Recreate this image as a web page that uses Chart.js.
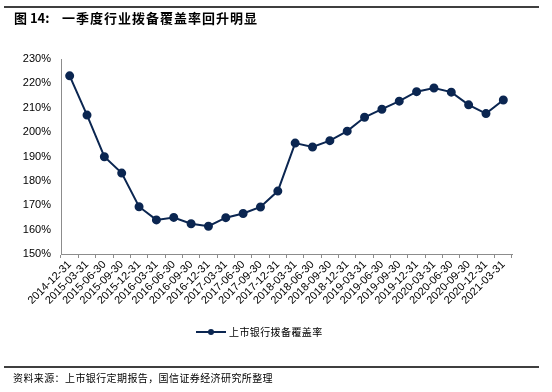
<!DOCTYPE html>
<html>
<head>
<meta charset="utf-8">
<script src="https://cdn.jsdelivr.net/npm/chart.js@4/dist/chart.umd.min.js"></script>
<style>
  html, body { margin: 0; padding: 0; background: #fff; }
  #wrap { position: relative; width: 552px; height: 392px; }
</style>
</head>
<body>
<div id="wrap"><canvas id="coverageChart" width="552" height="392"></canvas></div>
<script>
// quarter-end dates
const dates = [
  '2014-12-31', '2015-03-31', '2015-06-30', '2015-09-30', '2015-12-31',
  '2016-03-31', '2016-06-30', '2016-09-30', '2016-12-31',
  '2017-03-31', '2017-06-30', '2017-09-30', '2017-12-31',
  '2018-03-31', '2018-06-30', '2018-09-30', '2018-12-31',
  '2019-03-31', '2019-06-30', '2019-09-30', '2019-12-31',
  '2020-03-31', '2020-06-30', '2020-09-30', '2020-12-31',
  '2021-03-31'
];
// 上市银行拨备覆盖率 (%)
const coverage = [
  223.1, 207.0, 189.9, 183.2, 169.4,
  164.0, 165.0, 162.4, 161.4,
  164.9, 166.6, 169.3, 175.8,
  195.5, 193.9, 196.5, 200.4,
  206.1, 209.4, 212.7, 216.6,
  218.1, 216.4, 211.2, 207.6,
  213.2
];
const seriesName = '上市银行拨备覆盖率';
const yTicks = [150, 160, 170, 180, 190, 200, 210, 220, 230];

const navy = '#0b2651';
const axisGrey = '#8c8c8c';
const cjk = '"Noto Sans CJK SC", sans-serif';

// draw a string one glyph at a time with a fixed advance
function spaced(c, text, x, y, step) {
  for (const ch of text) {
    c.fillText(ch, x, y);
    x += step;
  }
}

// page furniture: title, rules, legend, source note
const pageDecor = {
  id: 'pageDecor',
  afterDraw(chart) {
    const c = chart.ctx;
    c.save();
    c.strokeStyle = '#000';
    c.lineWidth = 1.5;
    c.beginPath();
    c.moveTo(4, 7); c.lineTo(539, 7);
    c.moveTo(4, 367); c.lineTo(539, 367);
    c.stroke();

    c.fillStyle = '#000';
    c.textBaseline = 'middle';
    c.textAlign = 'left';
    c.font = 'bold 13px ' + cjk;
    c.fillText('图 14:', 14, 18);
    spaced(c, '一季度行业拨备覆盖率回升明显', 62, 18, 14);

    // legend
    const ly = 332;
    c.strokeStyle = navy;
    c.lineWidth = 2;
    c.beginPath();
    c.moveTo(196, ly); c.lineTo(226, ly);
    c.stroke();
    c.fillStyle = navy;
    c.beginPath();
    c.arc(211, ly, 3, 0, Math.PI * 2);
    c.fill();
    c.fillStyle = '#000';
    c.font = '10px ' + cjk;
    spaced(c, seriesName, 229, ly, 10.4);

    c.font = '10px ' + cjk;
    spaced(c, '资料来源：上市银行定期报告，国信证券经济研究所整理', 13, 378, 10.4);
    c.restore();
  }
};

function initCoverageChart() {
  const ctx = document.getElementById('coverageChart').getContext('2d');
  return new Chart(ctx, {
    type: 'line',
    data: {
      labels: dates,
      datasets: [{
        label: seriesName,
        data: coverage,
        borderColor: navy,
        backgroundColor: navy,
        borderWidth: 2,
        pointRadius: 3.5,
        pointHoverRadius: 3.5,
        tension: 0
      }]
    },
    options: {
      responsive: false,
      animation: false,
      layout: { padding: { left: 0, top: 59, right: 40, bottom: 0 } },
      plugins: {
        legend: { display: false },
        tooltip: { enabled: false }
      },
      scales: {
        x: {
          offset: true,
          afterFit(scale) { scale.height = 392 - 59 - 195; },
          grid: {
            offset: true,
            drawOnChartArea: false,
            color: axisGrey,
            tickLength: 4,
            tickColor: axisGrey
          },
          border: { color: axisGrey, width: 1 },
          ticks: {
            autoSkip: false,
            minRotation: 45,
            maxRotation: 45,
            padding: 0,
            color: '#000',
            font: { family: 'Liberation Sans, Arial, sans-serif', size: 11 }
          }
        },
        y: {
          min: 150,
          max: 230,
          afterFit(scale) { scale.width = 61; },
          afterBuildTicks(scale) { scale.ticks = yTicks.map(v => ({ value: v })); },
          grid: { drawOnChartArea: false, drawTicks: false },
          border: { color: axisGrey, width: 1 },
          ticks: {
            padding: 10,
            color: '#000',
            font: { family: 'Liberation Sans, Arial, sans-serif', size: 11 },
            callback: v => v + '%'
          }
        }
      }
    },
    plugins: [pageDecor]
  });
}

initCoverageChart();
</script>
</body>
</html>
